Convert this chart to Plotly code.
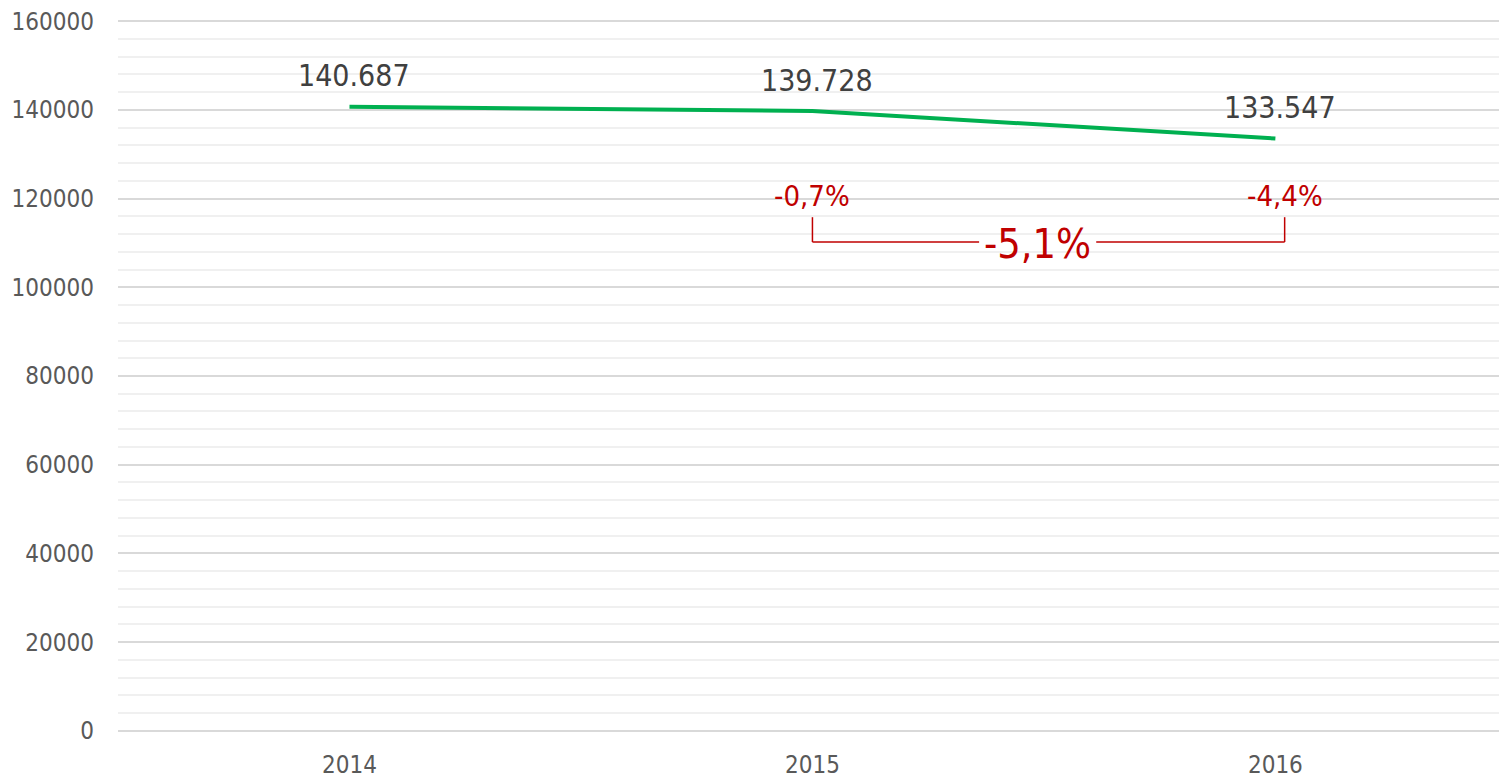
import plotly.graph_objects as go

years = ["2014", "2015", "2016"]
values = [140687, 139728, 133547]
value_labels = ["140.687", "139.728", "133.547"]
change_labels = ["-0,7%", "-4,4%"]
total_change_label = "-5,1%"
y_ticks = [0, 20000, 40000, 60000, 80000, 100000, 120000, 140000, 160000]

FONT = "DejaVu Sans Condensed, DejaVu Sans, sans-serif"
RED = "#c00000"

x_idx = list(range(len(years)))

fig = go.Figure()
fig.add_trace(go.Scatter(
    x=x_idx, y=values, mode="lines",
    line=dict(color="#00b050", width=4),
    hoverinfo="skip", showlegend=False,
))
for xi, v, lab in zip(x_idx, values, value_labels):
    fig.add_annotation(x=xi, y=v, text=lab, showarrow=False, yshift=31,
                       xshift=5, font=dict(family=FONT, size=30, color="#404040"),
                       xanchor="center", yanchor="middle")

# change annotations
fig.add_annotation(x=1, y=120000, text=change_labels[0], showarrow=False, yshift=3,
                   font=dict(family=FONT, size=29, color=RED), xanchor="center", yanchor="middle")
fig.add_annotation(x=2.02, y=120000, text=change_labels[1], showarrow=False, yshift=3,
                   font=dict(family=FONT, size=29, color=RED), xanchor="center", yanchor="middle")
fig.add_annotation(x=1.487, y=110200, text=total_change_label, showarrow=False, yshift=-2,
                   font=dict(family=FONT, size=41, color=RED), xanchor="center", yanchor="middle")

# bracket
br_y, br_top = 110200, 115800
lw = 1.5
fig.add_shape(type="line", x0=1, x1=1, y0=br_top, y1=br_y, line=dict(color=RED, width=lw))
fig.add_shape(type="line", x0=2.02, x1=2.02, y0=br_top, y1=br_y, line=dict(color=RED, width=lw))
fig.add_shape(type="line", x0=1, x1=1.36, y0=br_y, y1=br_y, line=dict(color=RED, width=lw))
fig.add_shape(type="line", x0=1.613, x1=2.02, y0=br_y, y1=br_y, line=dict(color=RED, width=lw))

fig.update_layout(
    width=1499, height=778,
    margin=dict(l=118, r=0, t=20, b=46),
    plot_bgcolor="white", paper_bgcolor="white",
    font=dict(family=FONT, color="#595959"),
)
fig.update_xaxes(
    range=[-0.5, 2.483], tickvals=x_idx, ticktext=years,
    showgrid=False, zeroline=False, showline=False, automargin=False,
    tickfont=dict(family=FONT, size=24, color="#595959"),
    ticks="", ticklabelstandoff=16,
)
fig.update_yaxes(
    range=[-250, 160250], tickvals=y_ticks, ticktext=[str(v) for v in y_ticks],
    showgrid=True, gridcolor="#d9d9d9", gridwidth=1.5,
    minor=dict(dtick=4000, tick0=0, showgrid=True, gridcolor="#f0f0f0", gridwidth=1.5),
    zeroline=False, showline=False, automargin=False,
    tickfont=dict(family=FONT, size=24, color="#595959"),
    ticks="", ticklabelstandoff=23,
)

fig.write_html("out.html", config={"displayModeBar": False},
               post_script="document.body.style.margin='0';document.body.style.overflow='hidden';")
